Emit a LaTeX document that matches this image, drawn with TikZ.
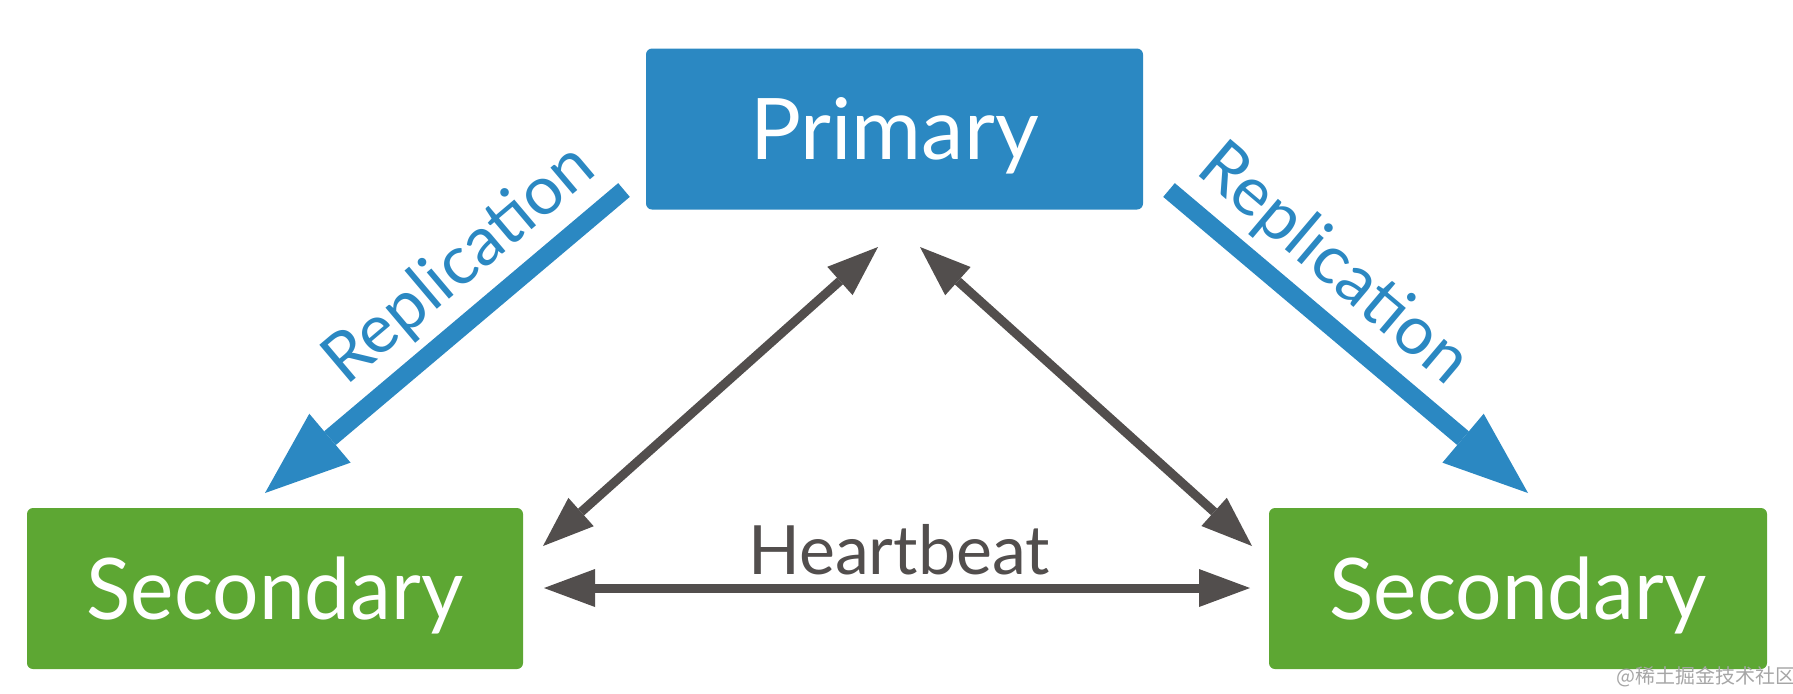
\documentclass[tikz,border=0pt]{standalone}
\usepackage{fontspec}
\setmainfont{Lato}
\newfontfamily\cjkfont{Noto Sans CJK SC}
\newfontfamily\narrowlato[FakeStretch=0.965]{Lato}
\usetikzlibrary{arrows.meta}
\definecolor{mblue}{HTML}{2B88C2}
\definecolor{mgreen}{HTML}{5DA733}
\definecolor{mgray}{HTML}{524E4D}
\begin{document}
\begin{tikzpicture}[x=0.5pt,y=-0.5pt,
  box/.style={rounded corners=3pt, inner sep=0pt, text=white,
    font=\fontsize{42.5}{50}\selectfont, text height=30.5pt, text depth=0pt,
    minimum height=80.5pt},
  sbox/.style={box, fill=mgreen, font=\narrowlato\fontsize{42.5}{50}\selectfont},
  rep/.style={draw=mblue, line width=9pt,
    -{Triangle[length=42.5pt,width=32pt,line width=0pt]}},
  hb/.style={draw=mgray, line width=4.5pt,
    {Triangle[length=25.5pt,width=19pt,line width=0pt]}-{Triangle[length=25.5pt,width=19pt,line width=0pt]}},
  lbl/.style={font=\fontsize{34}{40}\selectfont, inner sep=0pt}]
\useasboundingbox (0,0) rectangle (1793,693);
\node[box, fill=mblue, minimum width=248.5pt] (P) at (894.5,129) {Primary};
\node[sbox, minimum width=248pt] (L) at (275,588.5) {Secondary};
\node[sbox, minimum width=249pt] (R) at (1518,588.5) {Secondary};
\coordinate (a1) at (624,190); \coordinate (a2) at (265,493);
\coordinate (b1) at (1169,190); \coordinate (b2) at (1528,493);
\coordinate (c1) at (543,546); \coordinate (c2) at (878,247);
\coordinate (d1) at (920,247); \coordinate (d2) at (1252,546);
\coordinate (e1) at (544,588); \coordinate (e2) at (1250,588);
\draw[rep] (a1) -- (a2);
\draw[rep] (b1) -- (b2);
\draw[hb] (c1) -- (c2);
\draw[hb] (d1) -- (d2);
\draw[hb] (e1) -- (e2);
\node[lbl, text=mblue, rotate=40.2] (rl) at (460,265) {Replication};
\node[lbl, text=mblue, rotate=-40.2] (rr) at (1333,265) {Replication};
\node[lbl, text=mgray, anchor=base] (hl) at (899,574) {Heartbeat};
\node[font=\cjkfont\fontsize{10}{12}\selectfont, text=black!35, inner sep=0pt] (wm) at (1706,677) {@稀土掘金技术社区};
\end{tikzpicture}
\end{document}
